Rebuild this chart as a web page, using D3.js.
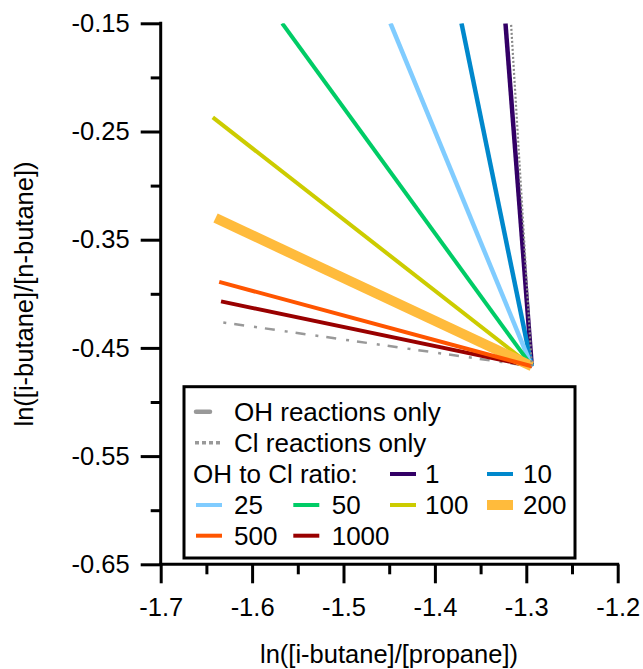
<!DOCTYPE html>
<html><head><meta charset="utf-8">
<script src="https://cdn.jsdelivr.net/npm/d3@7"></script>
<style>
html,body{margin:0;padding:0;background:#fff;}
svg{display:block;font-family:"Liberation Sans",Arial,sans-serif;}
</style>
</head><body>
<svg id="chart" width="643" height="669"></svg>
<script>
// ---------- data ----------
const xTicks = [-1.7, -1.6, -1.5, -1.4, -1.3, -1.2];
const xTickLabels = ["-1.7", "-1.6", "-1.5", "-1.4", "-1.3", "-1.2"];
const xMinorTicks = [-1.65, -1.55, -1.45, -1.35, -1.25];
const yTicks = [-0.15, -0.25, -0.35, -0.45, -0.55, -0.65];
const yTickLabels = ["-0.15", "-0.25", "-0.35", "-0.45", "-0.55", "-0.65"];
const yMinorTicks = [-0.2, -0.3, -0.4, -0.5, -0.6];

// common starting point of all model lines
const startX = -1.294;
const startY = -0.467;

// OH to Cl ratio series (end points)
const ratioLabels = ["1", "10", "25", "50", "100", "200", "500", "1000"];
const ratioEndX = [-1.3228, -1.3709, -1.4486, -1.5671, -1.643, -1.640, -1.636, -1.634];
const ratioEndY = [-0.15, -0.15, -0.15, -0.15, -0.237, -0.330, -0.389, -0.407];

// reference-only series
const ohOnlyX = [-1.6315, -1.294];
const ohOnlyY = [-0.4265, -0.467];
const clOnlyX = [-1.294, -1.3167];
const clOnlyY = [-0.467, -0.15];

// ---------- styles ----------
const ratioColors = ["#330066", "#0088cc", "#80ccff", "#00cc66", "#cccc00", "#ffbb3c", "#ff5500", "#990000"];
const ratioWidths = [4.5, 4.5, 4.5, 4, 4, 10, 4, 4];
const drawOrder = [7, 0, 1, 2, 3, 4, 5, 6];

const svg = d3.select("#chart");
const L = 160.7, R = 617.7, T = 23.3, B = 564.3;
const x = d3.scaleLinear().domain([-1.7, -1.2]).range([L, R]);
const y = d3.scaleLinear().domain([-0.65, -0.15]).range([B, T]);
const FONT = 25.5;
const LFONT = 26;

svg.append("defs").append("clipPath").attr("id", "plotclip")
  .append("rect").attr("x", L).attr("y", T).attr("width", R - L + 10).attr("height", B - T);

const line = d3.line().x(d => x(d[0])).y(d => y(d[1]));
const plot = svg.append("g").attr("clip-path", "url(#plotclip)");

// OH only: dash-dot grey
plot.append("path")
  .attr("d", line(d3.zip(ohOnlyX, ohOnlyY)))
  .attr("fill", "none").attr("stroke", "#999").attr("stroke-width", 2.5)
  .attr("stroke-dasharray", "3,8,10,10");

drawOrder.forEach(i => {
  plot.append("path")
    .attr("d", line([[startX, startY], [ratioEndX[i], ratioEndY[i]]]))
    .attr("fill", "none").attr("stroke", ratioColors[i])
    .attr("stroke-width", ratioWidths[i]);
});

// Cl only: dotted grey
plot.append("path")
  .attr("d", line(d3.zip(clOnlyX, clOnlyY)))
  .attr("fill", "none").attr("stroke", "#888").attr("stroke-width", 2.2)
  .attr("stroke-dasharray", "2,2");

// ---------- axes ----------
const xAxisMajor = d3.axisBottom(x).tickValues(xTicks).tickSize(19).tickSizeOuter(0)
  .tickFormat((d, i) => xTickLabels[i]).tickPadding(15);
const gx = svg.append("g").attr("transform", `translate(0,${B})`).call(xAxisMajor);
const gxm = svg.append("g").attr("transform", `translate(0,${B})`)
  .call(d3.axisBottom(x).tickValues(xMinorTicks).tickSize(10).tickSizeOuter(0).tickFormat(""));
gxm.select(".domain").remove();

const yAxisMajor = d3.axisLeft(y).tickValues(yTicks).tickSize(20).tickSizeOuter(0)
  .tickFormat((d, i) => yTickLabels[i]).tickPadding(11);
const gy = svg.append("g").attr("transform", `translate(${L},0)`).call(yAxisMajor);
const gym = svg.append("g").attr("transform", `translate(${L},0)`)
  .call(d3.axisLeft(y).tickValues(yMinorTicks).tickSize(10).tickSizeOuter(0).tickFormat(""));
gym.select(".domain").remove();

[gx, gxm, gy, gym].forEach(g => {
  g.selectAll("path,line").attr("stroke", "#000").attr("stroke-width", 3);
  g.selectAll("text").attr("fill", "#000").style("font-size", FONT + "px")
    .style("font-family", '"Liberation Sans",Arial,sans-serif');
});
gx.select(".domain").attr("d", `M${L - 1.5},0H${R + 1.5}`);
gy.select(".domain").attr("d", `M0,${T - 1.5}V${B + 1.5}`);

// axis titles
svg.append("text").attr("x", 389).attr("y", 663).attr("text-anchor", "middle")
  .style("font-size", FONT + "px").text("ln([i-butane]/[propane])");
svg.append("text").attr("transform", "translate(33,294) rotate(-90)")
  .attr("text-anchor", "middle").style("font-size", FONT + "px")
  .text("ln([i-butane]/[n-butane])");

// ---------- legend ----------
const lg = svg.append("g");
lg.append("rect").attr("x", 184).attr("y", 386.7).attr("width", 391).attr("height", 171.3)
  .attr("fill", "#fff").attr("stroke", "#000").attr("stroke-width", 3);

const rowY = [411.7, 442.7, 474, 505, 535.7];
const colSw = [196, 293.3, 390, 487];
const colTx = [234, 331.7, 425, 523];

lg.append("line").attr("x1", 196).attr("x2", 210).attr("y1", rowY[0]).attr("y2", rowY[0])
  .attr("stroke", "#999").attr("stroke-width", 4.5).attr("stroke-linecap", "round");
lg.append("text").attr("x", 234).attr("y", rowY[0]).attr("dy", "0.35em")
  .style("font-size", LFONT + "px").text("OH reactions only");
lg.append("line").attr("x1", 195).attr("x2", 223).attr("y1", rowY[1]).attr("y2", rowY[1])
  .attr("stroke", "#999").attr("stroke-width", 3.5).attr("stroke-dasharray", "4,3");
lg.append("text").attr("x", 234).attr("y", rowY[1]).attr("dy", "0.35em")
  .style("font-size", LFONT + "px").text("Cl reactions only");
lg.append("text").attr("x", 193).attr("y", rowY[2]).attr("dy", "0.35em")
  .style("font-size", LFONT + "px").text("OH to Cl ratio:");

// slots for ratio entries: row 2 cols 2,3; row 3 cols 0..3; row 4 cols 0,1
const slots = [[2, 2], [2, 3], [3, 0], [3, 1], [3, 2], [3, 3], [4, 0], [4, 1]];
ratioLabels.forEach((lab, i) => {
  const [r, c] = slots[i];
  lg.append("line").attr("x1", colSw[c]).attr("x2", colSw[c] + 26)
    .attr("y1", rowY[r]).attr("y2", rowY[r])
    .attr("stroke", ratioColors[i]).attr("stroke-width", i === 5 ? 10 : 4);
  lg.append("text").attr("x", colTx[c]).attr("y", rowY[r]).attr("dy", "0.35em")
    .style("font-size", LFONT + "px").text(lab);
});
</script>
</body></html>
